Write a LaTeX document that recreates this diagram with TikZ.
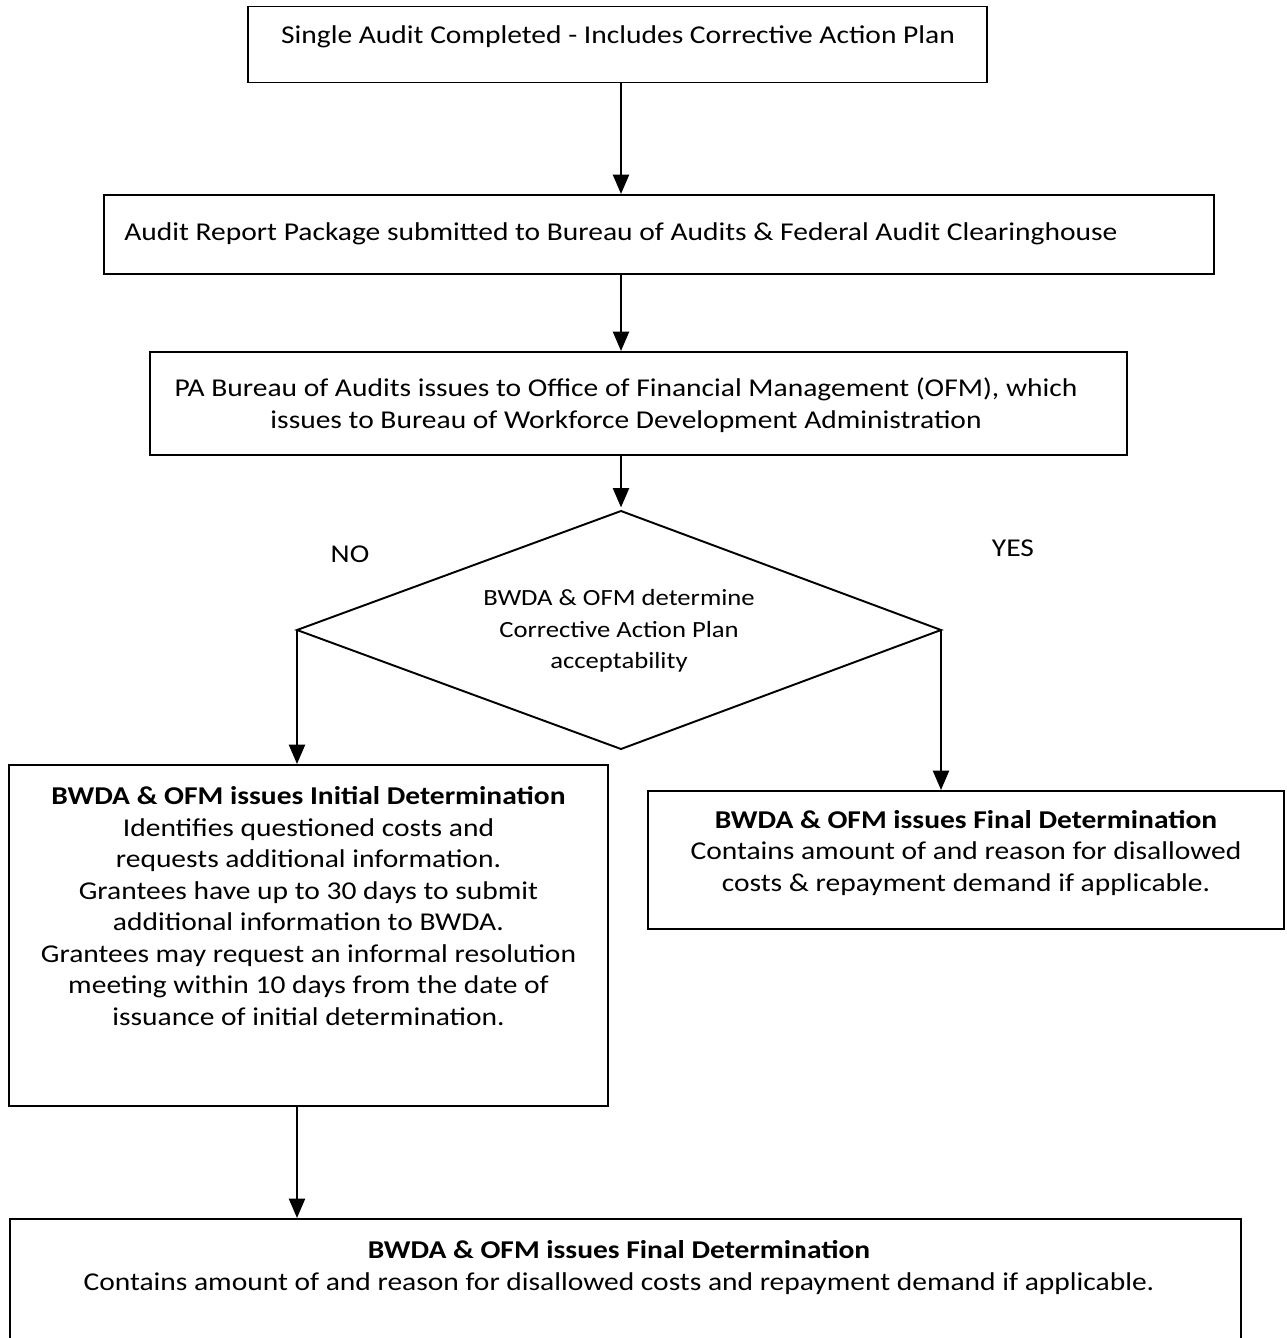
\documentclass[tikz,border=0pt]{standalone}
\usepackage{fontspec}
\setmainfont{Carlito}[FakeStretch=1.15]
\usepackage{tikz}
\usepackage{xcolor}
\usetikzlibrary{arrows.meta}

\tikzset{
  box/.style={draw, line width=1.1pt, inner sep=0pt},
  txt/.style={align=center, inner sep=0pt},
  arr/.style={line width=1.5pt, -{Triangle[length=11pt,width=9pt]}}
}

\begin{document}
\begin{tikzpicture}[x=0.02cm, y=-0.02cm, font=\fontsize{14.6}{17.9}\selectfont]

\useasboundingbox (0,0) rectangle (1286,1338);

%------------------------------------------------
% Boxes
%------------------------------------------------

\node[box, minimum width=14.78cm, minimum height=1.52cm] (single) at (617.5,44.5) {};
\node[box, minimum width=22.2cm,  minimum height=1.58cm] (audit)  at (659,234.5) {};
\node[box, minimum width=19.54cm, minimum height=2.06cm] (bureau) at (638.5,403.5) {};

\node[box, minimum width=11.98cm, minimum height=6.82cm] (initial) at (308.5,935.5) {};
\node[box, minimum width=12.72cm, minimum height=2.76cm] (finalA)  at (966,860) {};
\node[box, minimum width=24.62cm, minimum height=2.52cm] (finalB)  at (625.5,1282) {};

%------------------------------------------------
% Decision
%------------------------------------------------

\coordinate (dtop)   at (621,511);
\coordinate (dleft)  at (297,630);
\coordinate (dright) at (941,630);
\coordinate (dbot)   at (621,749);

\draw[line width=1.1pt, line join=miter] (dtop) -- (dright) -- (dbot) -- (dleft) -- cycle;

\node[txt, font=\fontsize{13.2}{17.9}\selectfont] (dia) at (619,631)
  {BWDA \& OFM determine\\Corrective Action Plan\\acceptability};

%------------------------------------------------
% Box texts
%------------------------------------------------

\node[txt] (singletxt) at (618,37) {Single Audit Completed - Includes Corrective Action Plan};
\node[txt, anchor=west] (audittxt) at (124,234)
  {Audit Report Package submitted to Bureau of Audits \& Federal Audit Clearinghouse};
\node[txt] (bureautxt) at (626,405)
  {PA Bureau of Audits issues to Office of Financial Management (OFM), which\\
   issues to Bureau of Workforce Development Administration};

\node[txt] (initialtxt) at (308.5,906)
  {\textbf{BWDA \& OFM issues Initial Determination}\\
   Identifies questioned costs and\\
   requests additional information.\\
   Grantees have up to 30 days to submit\\
   additional information to BWDA.\\
   Grantees may request an informal resolution\\
   meeting within 10 days from the date of\\
   issuance of initial determination.};

\node[txt] (finalAtxt) at (966,853)
  {\textbf{BWDA \& OFM issues Final Determination}\\
   Contains amount of and reason for disallowed\\
   costs \& repayment demand if applicable.};

\node[txt] (finalBtxt) at (619,1267.5)
  {\textbf{BWDA \& OFM issues Final Determination}\\
   Contains amount of and reason for disallowed costs and repayment demand if applicable.};

%------------------------------------------------
% Branch labels
%------------------------------------------------

\node[txt] (nolbl)  at (350,554) {NO};
\node[txt] (yeslbl) at (1013,548) {YES};

%------------------------------------------------
% Arrows
%------------------------------------------------

\draw[arr] (single.south -| dtop) -- (audit.north -| dtop);
\draw[arr] (audit.south -| dtop) -- (bureau.north -| dtop);
\draw[arr] (bureau.south -| dtop) -- ([yshift=2pt]dtop);

\draw[arr] (dleft) -- (dleft |- initial.north);
\draw[arr] (dright) -- (dright |- finalA.north);
\draw[arr] (dleft |- initial.south) -- (dleft |- finalB.north);

\end{tikzpicture}
\end{document}
